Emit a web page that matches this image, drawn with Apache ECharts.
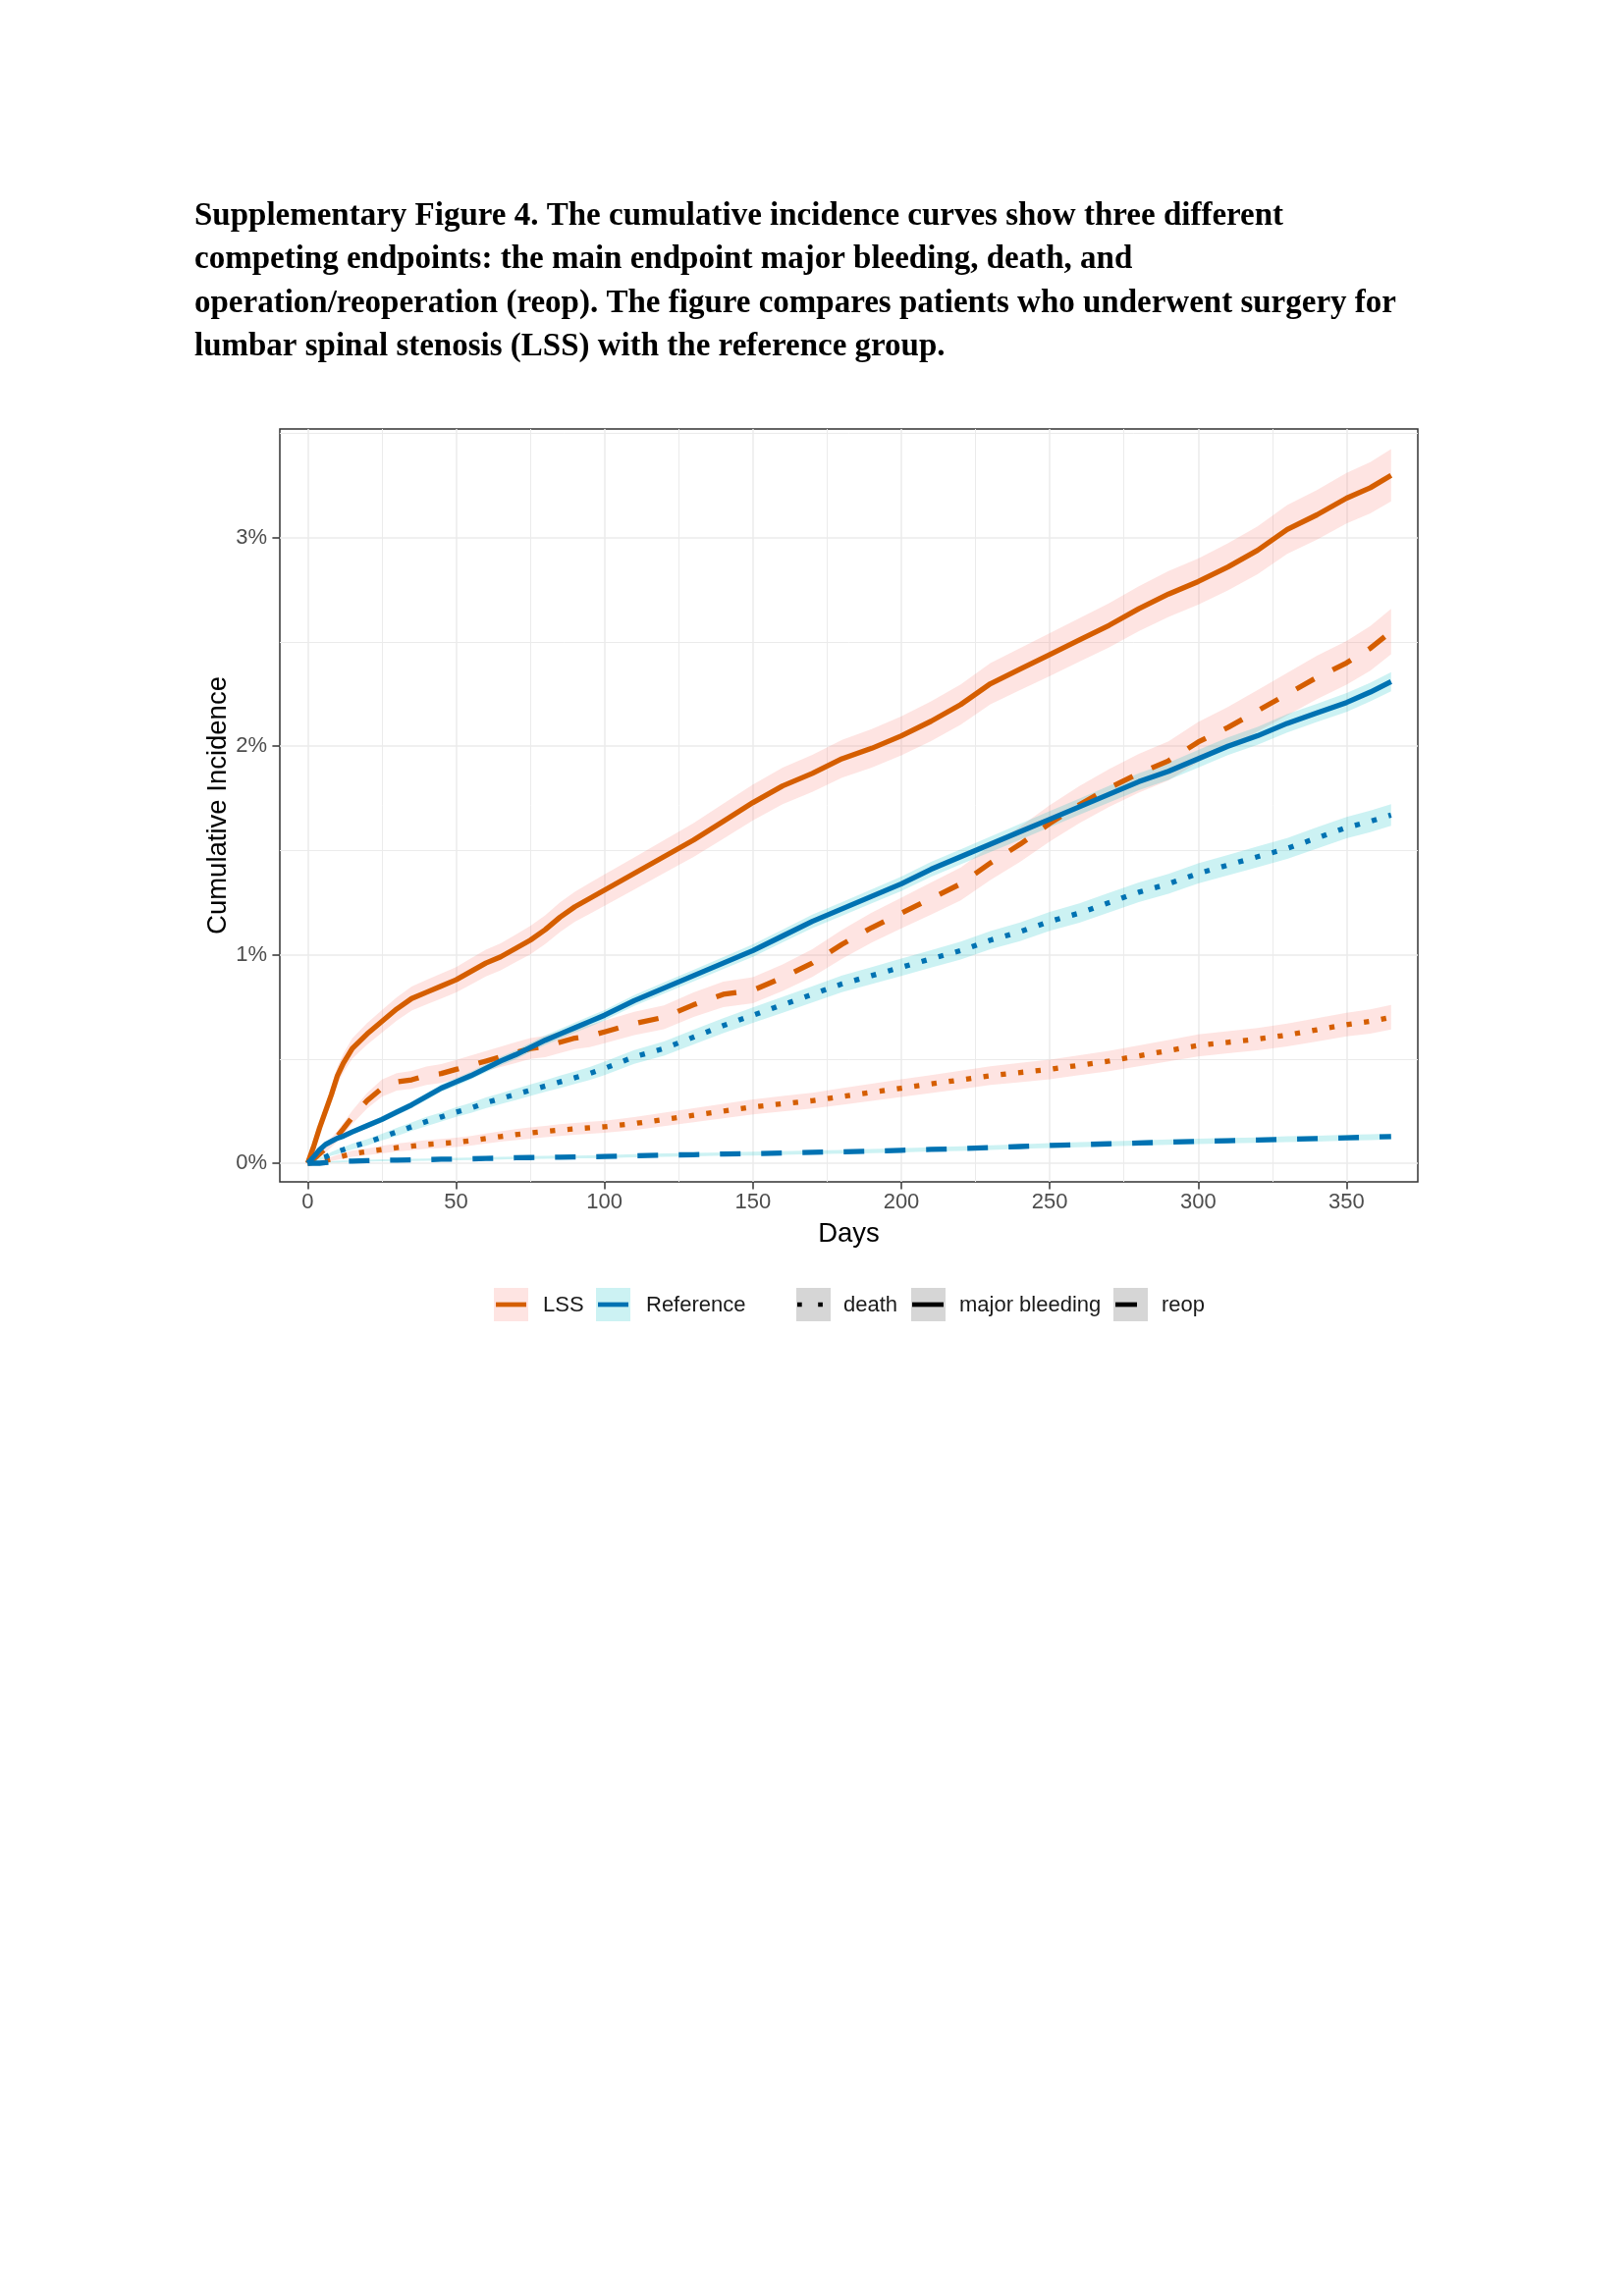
<!DOCTYPE html>
<html>
<head>
<meta charset="utf-8">
<script src="https://cdn.jsdelivr.net/npm/echarts@6/dist/echarts.min.js"></script>
<style>
  html, body { margin: 0; padding: 0; background: #fff; }
  #chart { width: 1654px; height: 2339px; }
</style>
</head>
<body>
<div id="chart"></div>
<script>
// day grid shared by every curve
const days = [0, 2, 4, 6, 8, 10, 12, 15, 20, 25, 30, 35, 40, 45, 50, 55, 60, 65, 70, 75, 80, 85, 90, 95, 100,
  110, 120, 130, 140, 150, 160, 170, 180, 190, 200, 210, 220, 230, 240, 250, 260, 270, 280, 290, 300,
  310, 320, 330, 340, 350, 358, 365];

// cumulative incidence (%) and half-width of the band (%)
const lssBleed = [0, 0.08, 0.17, 0.25, 0.33, 0.42, 0.48, 0.55, 0.62, 0.68, 0.74, 0.79, 0.82, 0.85, 0.88, 0.92, 0.96, 0.99, 1.03, 1.07, 1.12, 1.18, 1.23, 1.27, 1.31,
  1.39, 1.47, 1.55, 1.64, 1.73, 1.81, 1.87, 1.94, 1.99, 2.05, 2.12, 2.2, 2.3, 2.37, 2.44, 2.51, 2.58, 2.66, 2.73, 2.79,
  2.86, 2.94, 3.04, 3.11, 3.19, 3.24, 3.3];
const lssBleedHw = [0, 0.018, 0.027, 0.033, 0.038, 0.042, 0.045, 0.049, 0.052, 0.054, 0.056, 0.058, 0.059, 0.06, 0.061, 0.063, 0.064, 0.065, 0.066, 0.068, 0.069, 0.071, 0.072, 0.074, 0.075,
  0.077, 0.079, 0.081, 0.084, 0.086, 0.088, 0.089, 0.091, 0.092, 0.094, 0.095, 0.097, 0.099, 0.101, 0.103, 0.104, 0.106, 0.108, 0.11, 0.111,
  0.113, 0.115, 0.117, 0.119, 0.121, 0.123, 0.125];

const lssReop = [0, 0.02, 0.045, 0.07, 0.1, 0.13, 0.165, 0.22, 0.3, 0.36, 0.39, 0.4, 0.42, 0.43, 0.45, 0.47, 0.49, 0.51, 0.53, 0.55, 0.56, 0.58, 0.6, 0.61, 0.63,
  0.67, 0.7, 0.76, 0.81, 0.83, 0.89, 0.96, 1.05, 1.13, 1.2, 1.27, 1.34, 1.44, 1.53, 1.63, 1.72, 1.8, 1.87, 1.93, 2.02,
  2.09, 2.17, 2.25, 2.33, 2.4, 2.47, 2.55];
const lssReopHw = [0, 0.01, 0.014, 0.018, 0.022, 0.025, 0.028, 0.032, 0.037, 0.041, 0.042, 0.043, 0.044, 0.045, 0.046, 0.047, 0.048, 0.049, 0.05, 0.05, 0.051, 0.052, 0.053, 0.053, 0.054,
  0.056, 0.057, 0.059, 0.061, 0.062, 0.064, 0.067, 0.07, 0.072, 0.074, 0.077, 0.079, 0.082, 0.084, 0.087, 0.089, 0.091, 0.093, 0.094, 0.097,
  0.098, 0.1, 0.102, 0.104, 0.105, 0.107, 0.109];

const lssDeath = [0, 0.003, 0.008, 0.013, 0.02, 0.028, 0.035, 0.045, 0.055, 0.065, 0.075, 0.082, 0.09, 0.095, 0.1, 0.108, 0.118, 0.128, 0.137, 0.145, 0.152, 0.159, 0.165, 0.17, 0.175,
  0.19, 0.21, 0.23, 0.25, 0.27, 0.285, 0.3, 0.32, 0.34, 0.36, 0.38, 0.4, 0.42, 0.435, 0.45, 0.47, 0.49, 0.515, 0.54, 0.565,
  0.58, 0.595, 0.615, 0.64, 0.665, 0.68, 0.7];
const lssDeathHw = [0, 0.004, 0.006, 0.008, 0.01, 0.012, 0.013, 0.015, 0.016, 0.018, 0.019, 0.02, 0.021, 0.022, 0.022, 0.023, 0.024, 0.025, 0.026, 0.027, 0.027, 0.028, 0.028, 0.029, 0.029,
  0.031, 0.032, 0.034, 0.035, 0.036, 0.037, 0.038, 0.04, 0.041, 0.042, 0.043, 0.044, 0.045, 0.046, 0.047, 0.048, 0.049, 0.05, 0.051, 0.053,
  0.053, 0.054, 0.055, 0.056, 0.057, 0.058, 0.059];

const refBleed = [0, 0.03, 0.065, 0.09, 0.105, 0.12, 0.13, 0.15, 0.18, 0.21, 0.245, 0.28, 0.32, 0.36, 0.39, 0.42, 0.455, 0.49, 0.52, 0.555, 0.59, 0.62, 0.65, 0.68, 0.71,
  0.78, 0.84, 0.9, 0.96, 1.02, 1.09, 1.16, 1.22, 1.28, 1.34, 1.41, 1.47, 1.53, 1.59, 1.65, 1.71, 1.77, 1.83, 1.88, 1.94,
  2.0, 2.05, 2.11, 2.16, 2.21, 2.26, 2.31];
const refBleedHw = [0, 0.006, 0.008, 0.009, 0.01, 0.01, 0.011, 0.012, 0.013, 0.014, 0.015, 0.016, 0.017, 0.018, 0.019, 0.019, 0.02, 0.021, 0.022, 0.022, 0.023, 0.024, 0.024, 0.025, 0.025,
  0.026, 0.027, 0.028, 0.029, 0.03, 0.031, 0.032, 0.033, 0.034, 0.035, 0.036, 0.036, 0.037, 0.038, 0.039, 0.039, 0.04, 0.041, 0.041, 0.042,
  0.042, 0.043, 0.044, 0.044, 0.045, 0.045, 0.046];

const refDeath = [0, 0.01, 0.02, 0.03, 0.045, 0.055, 0.065, 0.08, 0.1, 0.125, 0.15, 0.175, 0.2, 0.222, 0.245, 0.265, 0.29, 0.31, 0.33, 0.35, 0.37, 0.39, 0.41, 0.43, 0.455,
  0.51, 0.55, 0.605, 0.66, 0.71, 0.76, 0.81, 0.86, 0.9, 0.94, 0.98, 1.02, 1.07, 1.11, 1.16, 1.2, 1.25, 1.3, 1.34, 1.39,
  1.43, 1.47, 1.51, 1.56, 1.61, 1.64, 1.67];
const refDeathHw = [0, 0.005, 0.007, 0.008, 0.009, 0.011, 0.012, 0.014, 0.015, 0.016, 0.019, 0.02, 0.022, 0.022, 0.023, 0.024, 0.026, 0.026, 0.027, 0.028, 0.028, 0.03, 0.03, 0.031, 0.032,
  0.033, 0.034, 0.035, 0.036, 0.037, 0.038, 0.039, 0.04, 0.041, 0.042, 0.042, 0.043, 0.044, 0.045, 0.045, 0.046, 0.047, 0.047, 0.048, 0.048,
  0.049, 0.05, 0.05, 0.051, 0.051, 0.052, 0.052];

const refReop = [0, 0, 0, 0.003, 0.006, 0.008, 0.009, 0.01, 0.012, 0.014, 0.015, 0.016, 0.017, 0.019, 0.02, 0.021, 0.023, 0.024, 0.026, 0.027, 0.028, 0.029, 0.03, 0.031, 0.032,
  0.036, 0.039, 0.041, 0.044, 0.046, 0.049, 0.052, 0.055, 0.058, 0.062, 0.066, 0.07, 0.075, 0.08, 0.085, 0.089, 0.093, 0.097, 0.101, 0.105,
  0.108, 0.111, 0.115, 0.118, 0.122, 0.125, 0.128];
const refReopHw = [0, 0, 0, 0.002, 0.003, 0.004, 0.004, 0.004, 0.004, 0.005, 0.005, 0.005, 0.005, 0.006, 0.006, 0.006, 0.006, 0.006, 0.006, 0.007, 0.007, 0.007, 0.007, 0.007, 0.007,
  0.008, 0.008, 0.008, 0.008, 0.009, 0.009, 0.009, 0.009, 0.01, 0.01, 0.01, 0.011, 0.011, 0.011, 0.012, 0.012, 0.012, 0.012, 0.013, 0.013,
  0.013, 0.013, 0.014, 0.014, 0.014, 0.014, 0.014];

const xMajor = [0, 50, 100, 150, 200, 250, 300, 350];
const xMinor = [25, 75, 125, 175, 225, 275, 325];
const yMajor = [0, 1, 2, 3];
const yMinor = [0.5, 1.5, 2.5, 3.5];

const titleLines = [
  'Supplementary Figure 4. The cumulative incidence curves show three different',
  'competing endpoints: the main endpoint major bleeding, death, and',
  'operation/reoperation (reop). The figure compares patients who underwent surgery for',
  'lumbar spinal stenosis (LSS) with the reference group.'
];

const curves = [
  { group: 'LSS', endpoint: 'major bleeding', est: lssBleed, hw: lssBleedHw },
  { group: 'LSS', endpoint: 'reop', est: lssReop, hw: lssReopHw },
  { group: 'LSS', endpoint: 'death', est: lssDeath, hw: lssDeathHw },
  { group: 'Reference', endpoint: 'major bleeding', est: refBleed, hw: refBleedHw },
  { group: 'Reference', endpoint: 'death', est: refDeath, hw: refDeathHw },
  { group: 'Reference', endpoint: 'reop', est: refReop, hw: refReopHw }
];

const FONT = '"Liberation Sans", Arial, sans-serif';
const lineColor = { LSS: '#D55E00', Reference: '#0072B2' };
const bandColor = { LSS: 'rgba(248,118,109,0.2)', Reference: 'rgba(0,191,196,0.2)' };
const LW = 5.3;
const dashFor = { 'major bleeding': 'solid', death: [LW, 12.5], reop: [21, 21] };

// band as one polygon per curve: upper edge forward, lower edge back
function bandRenderer(fill) {
  return function (params, api) {
    if (params.dataIndex !== 0) return null;
    const n = params.dataInsideLength;
    const upper = [], lower = [];
    for (let j = 0; j < n; j++) {
      upper.push(api.coord([api.value(0, j), api.value(2, j)]));
      lower.push(api.coord([api.value(0, j), api.value(1, j)]));
    }
    return {
      type: 'polygon',
      shape: { points: upper.concat(lower.reverse()) },
      style: { fill: fill, stroke: null }
    };
  };
}

const series = [];
curves.forEach(c => {
  series.push({
    type: 'custom', silent: true, z: 1, clip: true,
    renderItem: bandRenderer(bandColor[c.group]),
    encode: { x: 0, y: [1, 2] },
    data: days.map((d, j) => [d, c.est[j] - c.hw[j], c.est[j] + c.hw[j]])
  });
});
curves.forEach(c => {
  series.push({
    type: 'line', name: c.group + ' ' + c.endpoint, symbol: 'none', z: 3,
    lineStyle: { color: lineColor[c.group], width: LW, type: dashFor[c.endpoint], cap: 'butt', join: 'round' },
    data: days.map((d, j) => [d, c.est[j]])
  });
});

// legend drawn by hand to look like the ggplot keys
const keyY = 1312, keyH = 34, keyW = 35, midY = 1329;
const legendItems = [
  { x: 503, fill: bandColor.LSS, stroke: lineColor.LSS, x1: 505, x2: 536, dash: null, label: 'LSS', tx: 553 },
  { x: 607, fill: bandColor.Reference, stroke: lineColor.Reference, x1: 609, x2: 640, dash: null, label: 'Reference', tx: 658 },
  { x: 811, fill: 'rgba(51,51,51,0.2)', stroke: '#000', x1: 812, x2: 845, dash: [4.7, 16.5], label: 'death', tx: 859 },
  { x: 928, fill: 'rgba(51,51,51,0.2)', stroke: '#000', x1: 929, x2: 961, dash: null, label: 'major bleeding', tx: 977 },
  { x: 1134, fill: 'rgba(51,51,51,0.2)', stroke: '#000', x1: 1136, x2: 1158, dash: null, label: 'reop', tx: 1183 }
];
const legendGraphics = [];
legendItems.forEach(it => {
  legendGraphics.push({ type: 'rect', shape: { x: it.x, y: keyY, width: keyW, height: keyH }, style: { fill: it.fill } });
  legendGraphics.push({
    type: 'line', shape: { x1: it.x1, y1: midY, x2: it.x2, y2: midY },
    style: { stroke: it.stroke, lineWidth: 4.7, lineDash: it.dash, lineCap: 'butt' }
  });
  legendGraphics.push({
    type: 'text', x: it.tx, y: midY + 1,
    style: { text: it.label, font: '22px ' + FONT, fill: '#1A1A1A', verticalAlign: 'middle' }
  });
});

const chart = echarts.init(document.getElementById('chart'), null, { renderer: 'canvas' });

const xBase = { type: 'value', min: -9.4, max: 374, gridIndex: 0 };
const yBase = { type: 'value', min: -0.0895, max: 3.522, gridIndex: 0 };

chart.setOption({
  animation: false,
  backgroundColor: '#fff',
  grid: { left: 285, top: 437, width: 1159, height: 767, show: true, borderColor: '#333', borderWidth: 1.5, backgroundColor: 'transparent' },
  xAxis: [
    Object.assign({}, xBase, {
      position: 'bottom',
      axisLine: { show: false, onZero: false },
      axisTick: { show: true, length: 7.6, lineStyle: { color: '#333', width: 1.5 }, customValues: xMajor },
      axisLabel: { customValues: xMajor, fontSize: 22, color: '#4D4D4D', margin: 10, fontFamily: FONT },
      splitLine: { show: true, lineStyle: { color: '#EBEBEB', width: 1.5 } },
      name: 'Days', nameLocation: 'middle', nameGap: 39, nameMoveOverlap: false,
      nameTextStyle: { fontSize: 27.5, color: '#000', fontFamily: FONT }
    }),
    Object.assign({}, xBase, {
      position: 'bottom',
      axisLine: { show: false, onZero: false },
      axisTick: { show: false, customValues: xMinor },
      axisLabel: { show: false },
      splitLine: { show: true, lineStyle: { color: '#EBEBEB', width: 1 } }
    })
  ],
  yAxis: [
    Object.assign({}, yBase, {
      position: 'left',
      axisLine: { show: false, onZero: false },
      axisTick: { show: true, length: 7.6, lineStyle: { color: '#333', width: 1.5 }, customValues: yMajor },
      axisLabel: { customValues: yMajor, fontSize: 22, color: '#4D4D4D', margin: 13, fontFamily: FONT,
        formatter: v => Math.round(v) + '%' },
      splitLine: { show: true, lineStyle: { color: '#EBEBEB', width: 1.5 } },
      name: 'Cumulative Incidence', nameLocation: 'middle', nameGap: 49, nameRotate: 90, nameMoveOverlap: false,
      nameTextStyle: { fontSize: 27.5, color: '#000', fontFamily: FONT }
    }),
    Object.assign({}, yBase, {
      position: 'left',
      axisLine: { show: false, onZero: false },
      axisTick: { show: false, customValues: yMinor },
      axisLabel: { show: false },
      splitLine: { show: true, lineStyle: { color: '#EBEBEB', width: 1 } }
    })
  ],
  series: series,
  graphic: [
    {
      type: 'text', left: 198, top: 198,
      style: { text: titleLines.join('\n'), font: 'bold 33px "Liberation Serif", "Times New Roman", serif', lineHeight: 44.5, fill: '#000' }
    }
  ].concat(legendGraphics)
});
</script>
</body>
</html>
